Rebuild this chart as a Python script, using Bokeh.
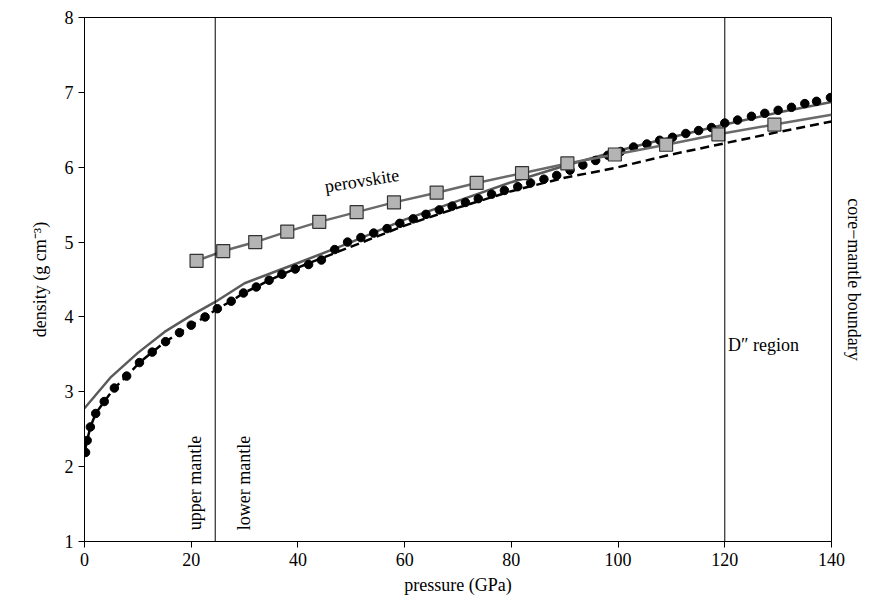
import math
from bokeh.plotting import figure
from bokeh.models import Range1d, Label, LinearAxis, FixedTicker, Span
from bokeh.embed import file_html
from bokeh.resources import INLINE

# gray solid model
gray_x = [0, 5, 10, 15, 20, 24.5, 30, 40, 50, 60, 70, 80, 90, 100, 110, 120, 130, 140]
gray_y = [2.78, 3.2, 3.52, 3.8, 4.02, 4.2, 4.45, 4.72, 5.0, 5.3, 5.55, 5.8, 6.02, 6.22, 6.4, 6.57, 6.73, 6.87]

# dashed model
dash_x = [0, 0.5, 1.1, 2.1, 3.7, 5.6, 7.9, 10.3, 12.7, 15.2, 17.8, 20, 22.6, 24.9, 27.5, 29.8, 32.2, 34.6, 40, 45, 50, 60, 70, 80, 90, 96.6, 100, 110, 120, 130, 140]
dash_y = [2.19, 2.35, 2.53, 2.71, 2.87, 3.05, 3.21, 3.39, 3.53, 3.67, 3.79, 3.89, 4.0, 4.11, 4.21, 4.32, 4.4, 4.49, 4.66, 4.8, 4.94, 5.22, 5.46, 5.68, 5.86, 5.95, 6.0, 6.17, 6.32, 6.47, 6.61]

# dotted (circles)
dot_x = [0.2, 0.5, 1.1, 2.1, 3.7, 5.6, 7.9, 10.3, 12.7, 15.2, 17.8, 20, 22.6, 24.9, 27.5, 29.8, 32.2, 34.6,
         37.0, 39.5, 42.0, 44.4, 46.9, 49.3, 51.8, 54.2, 56.7, 59.1, 61.6, 64.0, 66.5, 68.9, 71.4, 73.8,
         76.3, 78.7, 81.2, 83.6, 86.1, 88.5, 91.0, 93.4, 95.8, 98.1, 100.5, 102.9, 105.4, 107.8, 110.2,
         112.7, 115.1, 117.5, 120.0, 122.4, 125.0, 127.5, 130.0, 132.5, 135.0, 137.2, 139.8]
dot_y = [2.19, 2.35, 2.53, 2.71, 2.87, 3.05, 3.21, 3.39, 3.53, 3.67, 3.79, 3.89, 4.0, 4.11, 4.21, 4.32, 4.4, 4.49,
         4.57, 4.64, 4.7, 4.76, 4.9, 5.0, 5.06, 5.12, 5.18, 5.25, 5.31, 5.37, 5.43, 5.48, 5.53, 5.58,
         5.64, 5.69, 5.74, 5.79, 5.84, 5.89, 5.96, 6.03, 6.09, 6.16, 6.21, 6.27, 6.31, 6.36, 6.4,
         6.45, 6.49, 6.53, 6.59, 6.63, 6.68, 6.72, 6.76, 6.8, 6.85, 6.88, 6.93]

# perovskite
per_x = [21, 26, 32, 38, 44, 51, 58, 66, 73.5, 82, 90.5, 99.4, 109, 118.8, 129.3]
per_y = [4.75, 4.88, 5.0, 5.14, 5.27, 5.4, 5.53, 5.66, 5.79, 5.92, 6.05, 6.17, 6.3, 6.44, 6.57]
per_line_x = per_x + [140]
per_line_y = per_y + [6.7]

x_ticks = [0, 20, 40, 60, 80, 100, 120, 140]
y_ticks = [1, 2, 3, 4, 5, 6, 7, 8]
boundaries = [24.5, 120]

FONT = "Liberation Serif"

p = figure(width=866, height=597, output_backend="svg", toolbar_location=None,
           x_range=Range1d(0, 140), y_range=Range1d(1, 8),
           min_border_left=84, min_border_right=0, min_border_top=17, min_border_bottom=53)
p.grid.visible = False
p.outline_line_color = "black"
p.outline_line_width = 1
p.background_fill_color = "white"

for ax in (p.xaxis[0], p.yaxis[0]):
    ax.major_label_text_font = FONT
    ax.major_label_text_font_size = "18px"
    ax.axis_label_text_font = FONT
    ax.axis_label_text_font_size = "18px"
    ax.axis_label_text_font_style = "normal"
    ax.axis_label_text_color = "black"
    ax.minor_tick_line_color = None
    ax.major_tick_in = 0
    ax.major_tick_out = 6
    ax.axis_line_color = "black"
    ax.major_tick_line_color = "black"
    ax.major_label_text_color = "black"
p.xaxis[0].ticker = FixedTicker(ticks=x_ticks)
p.yaxis[0].ticker = FixedTicker(ticks=y_ticks)
p.xaxis[0].axis_label = "pressure (GPa)"
p.yaxis[0].axis_label = "density (g cm\u207b\u00b3)"
p.xaxis[0].axis_label_standoff = 6
p.yaxis[0].axis_label_standoff = 12

right = LinearAxis(ticker=FixedTicker(ticks=[]), axis_line_color=None,
                   major_label_text_font_size="0px",
                   axis_label="core\u2212mantle boundary", axis_label_text_font=FONT,
                   axis_label_text_font_size="18px", axis_label_text_font_style="normal",
                   axis_label_text_color="black", axis_label_standoff=12)
p.add_layout(right, "right")

for b in boundaries:
    p.add_layout(Span(location=b, dimension="height", line_color="black", line_width=1))

p.line(gray_x, gray_y, line_color="#5a5a5a", line_width=2.5)
p.line(dash_x, dash_y, line_color="black", line_width=2.5, line_dash="9 5")
p.scatter(dot_x, dot_y, size=8.5, fill_color="black", line_color="black")
p.line(per_line_x, per_line_y, line_color="#6a6a6a", line_width=2.5)
p.scatter(per_x, per_y, marker="square", size=13, fill_color="#b4b4b4", line_color="#333333", line_width=1.2)

def lab(x, y, t, angle=0.0, size="18px", align="left"):
    p.add_layout(Label(x=x, y=y, text=t, angle=angle, text_font=FONT, text_font_size=size,
                       text_align=align, text_baseline="middle", text_color="black"))

lab(52, 5.82, "perovskite", angle=math.radians(9), align="center")
lab(20.8, 1.15, "upper mantle", angle=math.pi / 2)
lab(29.8, 1.15, "lower mantle", angle=math.pi / 2)
lab(120.6, 3.62, "D\u2033 region")

open("out.html", "w").write(file_html(p, INLINE))
